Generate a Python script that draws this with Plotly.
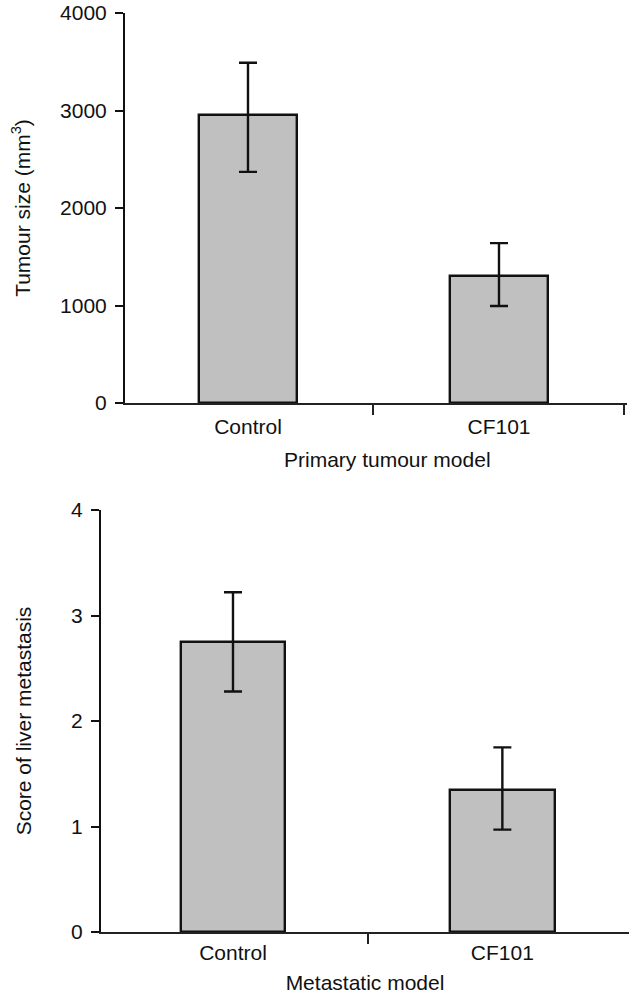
import plotly.graph_objects as go

categories = ["Control", "CF101"]

primary_size = [2950, 1300]
primary_err_plus = [540, 340]
primary_err_minus = [580, 305]

metastasis_score = [2.75, 1.35]
metastasis_err_plus = [0.47, 0.40]
metastasis_err_minus = [0.47, 0.38]

primary_yticks = [0, 1000, 2000, 3000, 4000]
metastasis_yticks = [0, 1, 2, 3, 4]

W, H = 629, 996
FONT = "Liberation Sans, Arial, sans-serif"
BAR_FILL = "#c0c0c0"
INK = "#111111"

fig = go.Figure()

fig.add_trace(go.Bar(
    x=categories, y=primary_size, xaxis="x", yaxis="y",
    width=0.394,
    marker=dict(color=BAR_FILL, line=dict(color=INK, width=2.4)),
    error_y=dict(type="data", symmetric=False, array=primary_err_plus,
                 arrayminus=primary_err_minus, color=INK, thickness=2.4, width=9),
    showlegend=False, hoverinfo="skip",
))

fig.add_trace(go.Bar(
    x=categories, y=metastasis_score, xaxis="x2", yaxis="y2",
    width=0.388,
    marker=dict(color=BAR_FILL, line=dict(color=INK, width=2.4)),
    error_y=dict(type="data", symmetric=False, array=metastasis_err_plus,
                 arrayminus=metastasis_err_minus, color=INK, thickness=2.4, width=9),
    showlegend=False, hoverinfo="skip",
))

tickfont = dict(family=FONT, size=21, color=INK)
titlefont = dict(family=FONT, size=21, color=INK)

common_x = dict(type="category", showgrid=False, zeroline=False, showline=True,
                linecolor="#222222", linewidth=2, ticks="outside", tickson="boundaries",
                ticklen=10, tickwidth=2, tickcolor="#222222", tickfont=tickfont,
                automargin=False, fixedrange=True)
common_y = dict(showgrid=False, zeroline=False, showline=True, linecolor=INK,
                linewidth=2, ticks="outside", ticklen=8, tickwidth=2, tickcolor=INK,
                tickfont=tickfont, automargin=False, fixedrange=True)

fig.update_layout(
    width=W, height=H,
    margin=dict(l=0, r=0, t=0, b=0),
    paper_bgcolor="white", plot_bgcolor="white",
    template="none",
    bargap=0,
    xaxis=dict(common_x, domain=[125 / W, 627 / W], range=[-0.49, 1.51], anchor="y",
               ticklabelstandoff=4),
    yaxis=dict(common_y, domain=[1 - 403 / H, 1 - 13 / H], range=[0, 4000], anchor="x",
               tickvals=primary_yticks, ticklabelstandoff=4,
               title=dict(text="Tumour size (mm<sup>3</sup>)", font=titlefont, standoff=24)),
    xaxis2=dict(common_x, domain=[101 / W, 1.0], range=[-0.49, 1.5 - 8 / 268], anchor="y2",
                ticklabelstandoff=1,
                title=dict(text="Metastatic model", font=titlefont, standoff=12)),
    yaxis2=dict(common_y, domain=[1 - 932 / H, 1 - 510 / H], range=[0, 4], anchor="x2",
                tickvals=metastasis_yticks, ticklabelstandoff=4,
                title=dict(text="Score of liver metastasis", font=titlefont, standoff=34)),
    annotations=[dict(text="Primary tumour model", xref="paper", yref="paper",
                      x=387 / W, y=1 - 460 / H, xanchor="center", yanchor="middle",
                      showarrow=False, font=titlefont)],
)

fig.write_html(
    "out.html",
    config={"displayModeBar": False},
    post_script="document.body.style.margin='0';document.body.style.overflow='hidden';",
)
